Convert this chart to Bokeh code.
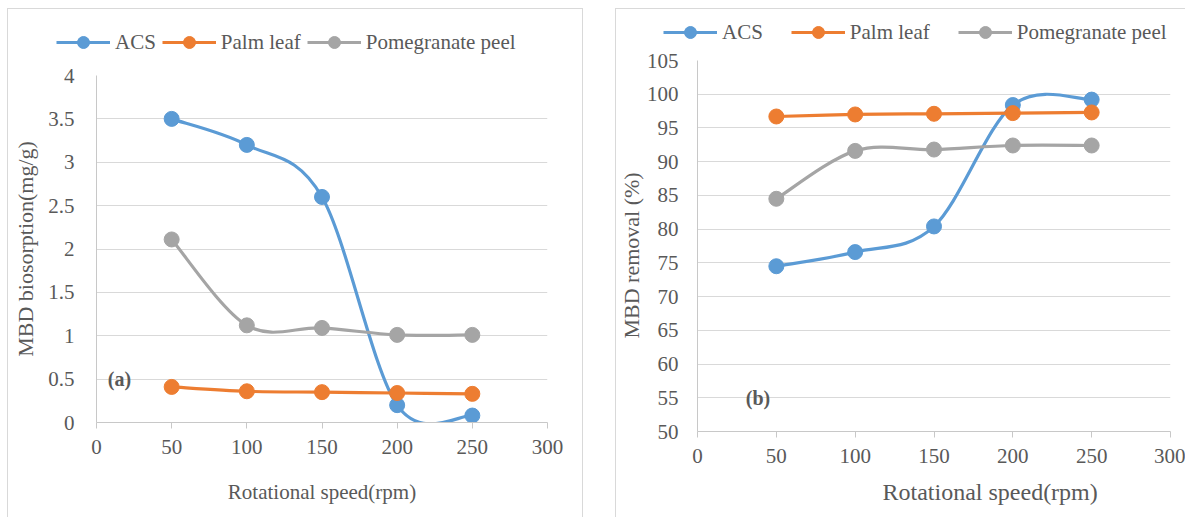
import numpy as np
from bokeh.plotting import figure
from bokeh.models import (Range1d, FixedTicker, Legend, LegendItem, Label, Spacer, Title)
from bokeh.layouts import row, column
from bokeh.embed import file_html
from bokeh.resources import INLINE

# ---------------- data ----------------
speed = [50, 100, 150, 200, 250]
series_names = ["ACS", "Palm leaf", "Pomegranate peel"]
series_colors = ["#5B9BD5", "#ED7D31", "#A5A5A5"]

biosorption_acs = [3.50, 3.20, 2.60, 0.20, 0.08]
biosorption_palm = [0.41, 0.36, 0.35, 0.34, 0.33]
biosorption_pomegranate = [2.11, 1.12, 1.09, 1.01, 1.01]

removal_acs = [74.5, 76.6, 80.4, 98.4, 99.2]
removal_palm = [96.7, 97.0, 97.1, 97.2, 97.3]
removal_pomegranate = [84.5, 91.6, 91.8, 92.4, 92.4]

x_ticks = [0, 50, 100, 150, 200, 250, 300]
left_y_ticks = [0, 0.5, 1, 1.5, 2, 2.5, 3, 3.5, 4]
left_y_tick_labels = ["0", "0.5", "1", "1.5", "2", "2.5", "3", "3.5", "4"]
right_y_ticks = [50, 55, 60, 65, 70, 75, 80, 85, 90, 95, 100, 105]

FONT = "Liberation Serif"
TEXT = "#595959"
GRID = "#D9D9D9"
BORDER = "1px solid #D9D9D9"


def no_frame_align(fig):
    if "frame_align" in fig.properties():
        fig.frame_align = False


def smooth_segments(xs, ys):
    """Excel-like smoothed line: cubic Bezier segments (Catmull-Rom control points)."""
    x = np.asarray(xs, float)
    y = np.asarray(ys, float)
    n = len(x)
    xp = np.concatenate([[x[0]], x, [x[-1]]])
    yp = np.concatenate([[y[0]], y, [y[-1]]])
    return dict(
        x0=x[:-1], y0=y[:-1], x1=x[1:], y1=y[1:],
        cx0=x[:-1] + (xp[2:n + 1] - xp[0:n - 1]) / 6.0,
        cy0=y[:-1] + (yp[2:n + 1] - yp[0:n - 1]) / 6.0,
        cx1=x[1:] - (xp[3:n + 2] - xp[1:n]) / 6.0,
        cy1=y[1:] - (yp[3:n + 2] - yp[1:n]) / 6.0,
    )


def make_legend_fig(width, height, series, loc, spacing, styles):
    # a frame-only figure holding the legend; its series lie outside the view
    lf = figure(width=width, height=height, x_range=Range1d(0, 1), y_range=Range1d(0, 1),
                output_backend="svg", toolbar_location=None, x_axis_type=None,
                y_axis_type=None, min_border=0)
    no_frame_align(lf)
    lf.styles = styles
    lf.outline_line_color = None
    lf.background_fill_color = "white"
    lf.border_fill_color = "white"
    lf.grid.visible = False
    items = []
    for ys, name, color in zip(series, series_names, series_colors):
        lr = lf.line(speed, ys, line_color=color, line_width=3.2)
        sr = lf.scatter(speed, ys, size=12, fill_color=color, line_color=color)
        items.append(LegendItem(label=name, renderers=[lr, sr]))
    legend = Legend(items=items, orientation="horizontal", location=loc,
                    glyph_width=54, glyph_height=30, label_standoff=5,
                    spacing=spacing, padding=0, margin=0,
                    border_line_alpha=0, background_fill_alpha=0,
                    label_text_font=FONT, label_text_font_size="21px",
                    label_text_color=TEXT)
    lf.add_layout(legend)
    return lf


def make_chart(width, height, borders, y_lo, y_hi, y_ticks, series,
               y_label_standoff, styles):
    p = figure(width=width, height=height, x_range=Range1d(0, 300),
               y_range=Range1d(y_lo, y_hi), output_backend="svg",
               toolbar_location=None, min_border_left=borders[0],
               min_border_top=borders[1], min_border_right=borders[2],
               min_border_bottom=borders[3])
    no_frame_align(p)
    p.styles = styles
    p.background_fill_color = "white"
    p.border_fill_color = "white"
    p.outline_line_color = None

    p.xgrid.visible = False
    p.ygrid.grid_line_color = GRID
    p.ygrid.grid_line_width = 1

    p.xaxis.ticker = FixedTicker(ticks=x_ticks)
    p.yaxis.ticker = FixedTicker(ticks=y_ticks)
    p.ygrid.ticker = FixedTicker(ticks=y_ticks)

    for ax in (p.xaxis[0], p.yaxis[0]):
        ax.axis_line_color = "#C8C8C8"
        ax.major_tick_line_color = "#C8C8C8"
        ax.minor_tick_line_color = None
        ax.major_label_text_font = FONT
        ax.major_label_text_color = TEXT
        ax.major_label_text_font_size = "21px"
        ax.axis_label_text_font = FONT
        ax.axis_label_text_color = TEXT
        ax.axis_label_text_font_style = "normal"

    p.xaxis.major_tick_in = 0
    p.xaxis.major_tick_out = 6
    p.xaxis.major_label_standoff = 11

    p.yaxis.major_tick_in = 0
    p.yaxis.major_tick_out = 0
    p.yaxis.major_label_standoff = y_label_standoff

    for ys, color in zip(series, series_colors):
        p.bezier(line_color=color, line_width=3.2, **smooth_segments(speed, ys))
        p.scatter(speed, ys, size=15, fill_color=color, line_color=color)
    return p


def side_title(text, size, offset, standoff):
    return Title(text=text, align="left", offset=offset, standoff=standoff,
                 text_font=FONT, text_font_size=size, text_font_style="normal",
                 text_color=TEXT)


# ---------------- panel (a) ----------------
series_a = [biosorption_acs, biosorption_palm, biosorption_pomegranate]
leg1 = make_legend_fig(576, 48, series_a, (48, 0), 6,
                       {"border-top": BORDER, "border-left": BORDER, "border-right": BORDER})
p1 = make_chart(576, 461, (88, 19, 37, 95), 0, 4, left_y_ticks, series_a, 22,
                {"border-left": BORDER, "border-right": BORDER})
p1.yaxis.major_label_overrides = dict(zip(left_y_ticks, left_y_tick_labels))
p1.yaxis.axis_label = "MBD biosorption(mg/g)"
p1.yaxis.axis_label_text_font_size = "22px"
p1.yaxis.axis_label_standoff = 7
p1.xaxis.axis_label = "Rotational speed(rpm)"
p1.xaxis.axis_label_text_font_size = "21px"
p1.xaxis.axis_label_standoff = 23
p1.add_layout(Label(x=7.5, y=0.5, text="(a)", text_font=FONT,
                    text_font_size="20px", text_font_style="bold",
                    text_color=TEXT, text_baseline="middle", text_align="left"))

# ---------------- panel (b) ----------------
series_b = [removal_acs, removal_palm, removal_pomegranate]
leg2 = make_legend_fig(570, 38, series_b, (47, 0), 28,
                       {"border-top": BORDER, "border-left": BORDER})
p2 = make_chart(570, 471, (81, 14, 16, 86), 50, 105, right_y_ticks, series_b, 19,
                {"border-left": BORDER})
p2.add_layout(Label(x=30.6, y=55, text="(b)", text_font=FONT,
                    text_font_size="20px", text_font_style="bold",
                    text_color=TEXT, text_baseline="middle", text_align="left"))
p2.add_layout(side_title("Rotational speed(rpm)", "24px", 185, 23), "below")
p2.add_layout(side_title("MBD removal (%)", "22px", 93, 0), "left")

layout = column(Spacer(height=8, width=10),
                row(Spacer(width=7, height=10), column(leg1, p1),
                    Spacer(width=32, height=10), column(leg2, p2)))

with open("out.html", "w") as f:
    f.write(file_html(layout, INLINE))
